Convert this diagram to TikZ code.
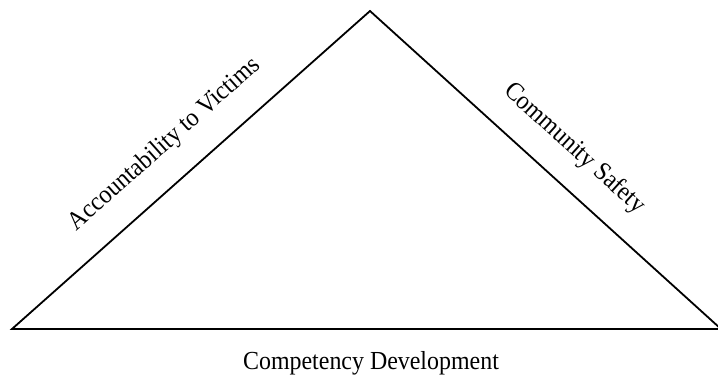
\documentclass[tikz,border=0pt]{standalone}
\usepackage{fontspec}
\setmainfont{Liberation Serif}[FakeStretch=0.92]
\begin{document}
\begin{tikzpicture}[x=1pt,y=1pt,
  side/.style={line width=1.8pt, line join=miter},
  lbl/.style={font=\fontsize{26}{29}\selectfont, inner sep=0pt}]
\useasboundingbox (0,0) rectangle (718,377);
\coordinate (L) at (12,48);
\coordinate (A) at (370,366);
\coordinate (R) at (721,48);
\draw[side] (R) -- (L) -- (A) -- (R);
\path (L) -- node[lbl, sloped, pos=0.495, anchor=base, yshift=30pt] (acc) {Accountability to Victims} (A);
\path (A) -- node[lbl, sloped, pos=0.515, anchor=base, yshift=29pt] (com) {Community Safety} (R);
\node[lbl, anchor=base] (dev) at (371,7) {Competency Development};
\end{tikzpicture}
\end{document}
